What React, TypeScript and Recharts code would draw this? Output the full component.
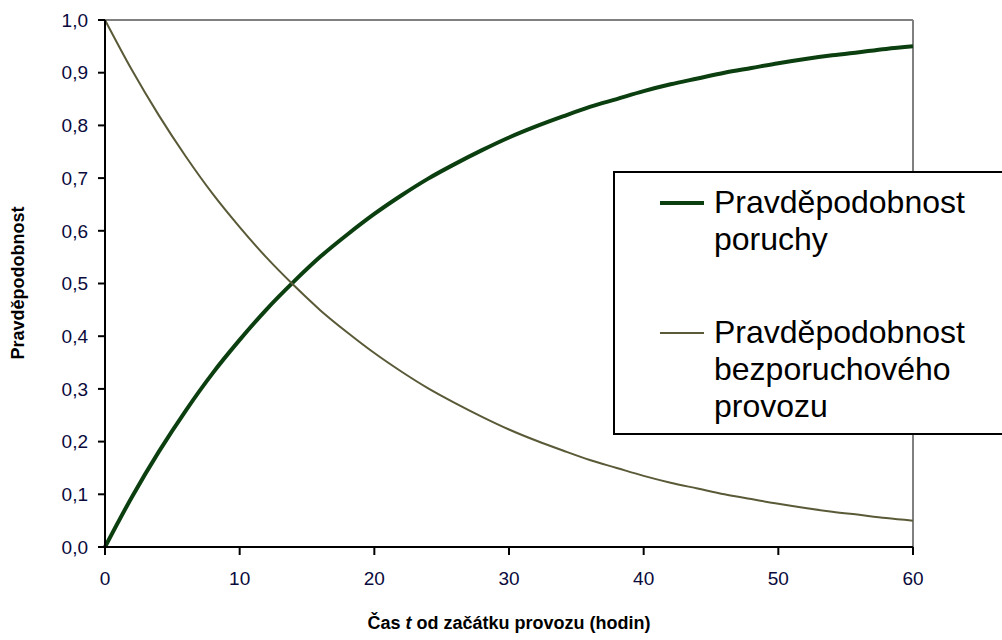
import React from "react";
import {
    LineChart,
    Line,
    XAxis,
    YAxis,
    Legend,
    ReferenceLine,
    Label,
} from "recharts";

// hours since start of operation
const hours = [
    0, 2, 4, 6, 8, 10, 12, 14, 16, 18, 20, 22, 24, 26, 28, 30,
    32, 34, 36, 38, 40, 42, 44, 46, 48, 50, 52, 54, 56, 58, 60,
];

// probability of failure
const failure = [
    0, 0.095, 0.181, 0.259, 0.33, 0.393, 0.451, 0.503, 0.551, 0.593, 0.632, 0.667, 0.699, 0.727, 0.753, 0.777,
    0.798, 0.817, 0.835, 0.85, 0.865, 0.878, 0.889, 0.9, 0.909, 0.918, 0.926, 0.933, 0.939, 0.945, 0.95,
];

// probability of failure-free operation (thin curve)
const survival = [
    1, 0.905, 0.819, 0.741, 0.67, 0.607, 0.549, 0.497, 0.449, 0.407, 0.368, 0.333, 0.301, 0.273, 0.247, 0.223,
    0.202, 0.183, 0.165, 0.15, 0.135, 0.122, 0.111, 0.1, 0.091, 0.082, 0.074, 0.067, 0.061, 0.055, 0.05,
];

const xTicks = [0, 10, 20, 30, 40, 50, 60];
const yTicks = [0, 0.1, 0.2, 0.3, 0.4, 0.5, 0.6, 0.7, 0.8, 0.9, 1];

const failureName = ["Pravděpodobnost", "poruchy"];
const survivalName = ["Pravděpodobnost", "bezporuchového", "provozu"];

const FAIL_COLOR = "#0b3f0f";
const SURV_COLOR = "#5a5a38";
const FONT = "Arial, 'Liberation Sans', sans-serif";

const data = hours.map((t, i) => ({ t, failure: failure[i], survival: survival[i] }));

function LegendBox() {
    const entry = (lines: string[], color: string, width: number) => (
        <div style={{ display: "flex", alignItems: "flex-start" }}>
            <div style={{ width: 44, height: 37, marginLeft: 45, marginRight: 10, display: "flex", alignItems: "center" }}>
                <div style={{ width: 44, height: width, background: color }} />
            </div>
            <div>
                {lines.map((l) => (
                    <div key={l} style={{ height: 37, lineHeight: "37px" }}>{l}</div>
                ))}
            </div>
        </div>
    );
    return (
        <div
            style={{
                width: 420,
                height: 264,
                border: "2px solid #000",
                background: "#fff",
                boxSizing: "border-box",
                fontFamily: FONT,
                fontSize: 32,
                color: "#000",
                paddingTop: 11,
            }}
        >
            {entry(failureName, FAIL_COLOR, 4)}
            <div style={{ height: 56 }} />
            {entry(survivalName, SURV_COLOR, 2)}
        </div>
    );
}

export default function App() {
    return (
        <div style={{ position: "absolute", left: 0, top: 0, width: 1002, height: 640, overflow: "hidden", background: "#fff" }}>
            <LineChart width={1002} height={640} data={data} margin={{ top: 20, right: 89, bottom: 53, left: 25 }}>
                <XAxis
                    dataKey="t"
                    type="number"
                    domain={[0, 60]}
                    ticks={xTicks}
                    height={40}
                    stroke="#000"
                    strokeWidth={2}
                    tickSize={8}
                    tickMargin={17}
                    tick={{ fill: "#0a0a3c", fontSize: 19, fontFamily: FONT }}
                >
                    <Label
                        content={() => (
                            <text x={509} y={629} textAnchor="middle" fontFamily={FONT} fontSize={18} fontWeight="bold" fill="#000">
                                Čas <tspan fontStyle="italic">t</tspan> od začátku provozu (hodin)
                            </text>
                        )}
                    />
                </XAxis>
                <YAxis
                    type="number"
                    domain={[0, 1]}
                    ticks={yTicks}
                    width={80}
                    stroke="#000"
                    strokeWidth={2}
                    tickSize={7}
                    tickMargin={10}
                    tickFormatter={(v) => Number(v).toFixed(1).replace(".", ",")}
                    tick={{ fill: "#0a0a3c", fontSize: 19, fontFamily: FONT }}
                >
                    <Label
                        content={() => (
                            <text
                                transform="translate(24,283) rotate(-90)"
                                textAnchor="middle"
                                fontFamily={FONT}
                                fontSize={18}
                                fontWeight="bold"
                                fill="#000"
                            >
                                Pravděpodobnost
                            </text>
                        )}
                    />
                </YAxis>
                <ReferenceLine y={1} stroke="#808080" strokeWidth={2} />
                <ReferenceLine x={60} stroke="#808080" strokeWidth={2} />
                <Line
                    type="monotone"
                    dataKey="failure"
                    stroke={FAIL_COLOR}
                    strokeWidth={4}
                    dot={false}
                    isAnimationActive={false}
                />
                <Line
                    type="monotone"
                    dataKey="survival"
                    stroke={SURV_COLOR}
                    strokeWidth={2}
                    dot={false}
                    isAnimationActive={false}
                />
                <Legend
                    layout="horizontal"
                    verticalAlign="middle"
                    content={() => <LegendBox />}
                    wrapperStyle={{ position: "absolute", left: 613, top: 171, width: 420, height: 264 }}
                />
            </LineChart>
        </div>
    );
}
